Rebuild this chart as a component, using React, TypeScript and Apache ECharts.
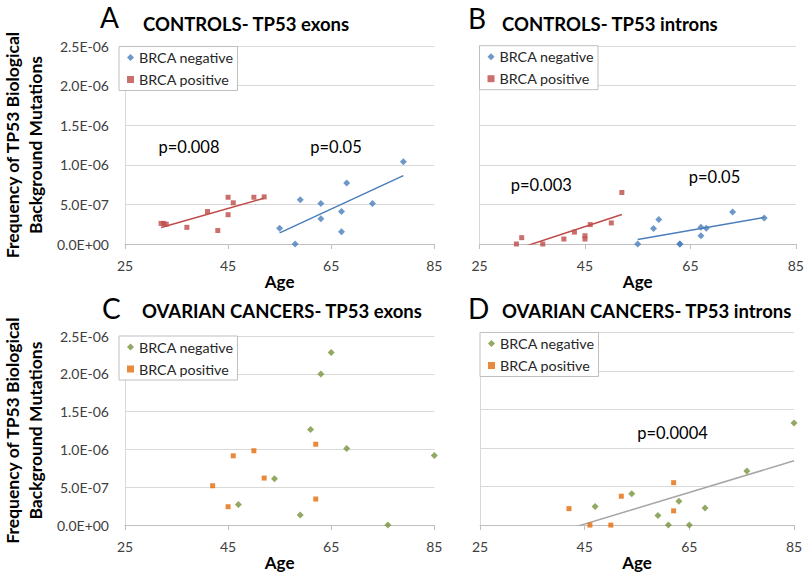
import React, { useEffect, useRef } from 'react';
import * as echarts from 'echarts';

// Panel A: controls, TP53 exons
const agesA_neg = [55, 58, 59, 63, 63, 67, 67, 68, 73, 79];
const valsA_neg = [0.2e-6, 0, 0.56e-6, 0.51e-6, 0.32e-6, 0.41e-6, 0.155e-6, 0.77e-6, 0.51e-6, 1.04e-6];
const agesA_pos = [32, 32.5, 33, 37, 41, 43, 45, 45, 46, 50, 52];
const valsA_pos = [0.26e-6, 0.26e-6, 0.25e-6, 0.21e-6, 0.41e-6, 0.17e-6, 0.59e-6, 0.37e-6, 0.52e-6, 0.59e-6, 0.595e-6];

// Panel B: controls, TP53 introns
const agesB_neg = [55, 58, 59, 63, 63, 67, 67, 68, 73, 79];
const valsB_neg = [0, 0.196e-6, 0.31e-6, 0, 0, 0.21e-6, 0.104e-6, 0.2e-6, 0.404e-6, 0.329e-6];
const agesB_pos = [32, 33, 37, 41, 43, 45, 45, 46, 50, 52];
const valsB_pos = [0, 0.08e-6, 0, 0.063e-6, 0.15e-6, 0.104e-6, 0.063e-6, 0.245e-6, 0.266e-6, 0.65e-6];

// Panel C: ovarian cancers, TP53 exons
const agesC_neg = [47, 54, 59, 61, 63, 65, 68, 76, 85];
const valsC_neg = [0.273e-6, 0.613e-6, 0.133e-6, 1.264e-6, 1.997e-6, 2.282e-6, 1.014e-6, 0, 0.92e-6];
const agesC_pos = [42, 45, 46, 50, 52, 62, 62];
const valsC_pos = [0.52e-6, 0.243e-6, 0.916e-6, 0.983e-6, 0.622e-6, 1.069e-6, 0.345e-6];

// Panel D: ovarian cancers, TP53 introns
const agesD_neg = [47, 54, 59, 61, 63, 65, 68, 76, 85];
const valsD_neg = [0.24e-6, 0.408e-6, 0.126e-6, 0, 0.308e-6, 0, 0.223e-6, 0.702e-6, 1.324e-6];
const agesD_pos = [42, 46, 50, 52, 62, 62];
const valsD_pos = [0.214e-6, 0, 0, 0.375e-6, 0.551e-6, 0.185e-6];

const panelLetters = ['A', 'B', 'C', 'D'];
const panelTitles = [
  'CONTROLS- TP53 exons',
  'CONTROLS- TP53 introns',
  'OVARIAN CANCERS- TP53 exons',
  'OVARIAN CANCERS- TP53 introns',
];
const pLabels = ['p=0.008', 'p=0.05', 'p=0.003', 'p=0.05', 'p=0.0004'];
const legendNames = ['BRCA negative', 'BRCA positive'];
const xTicks = [25, 45, 65, 85];
const yMax = 2.5e-6;
const yStep = 0.5e-6;

const FONT = 'Lato, "Open Sans", sans-serif';

function zip(xs: number[], ys: number[]) {
  return xs.map((x, i) => [x, ys[i]]);
}

function trend(xs: number[], ys: number[]) {
  const n = xs.length;
  const mx = xs.reduce((a, b) => a + b, 0) / n;
  const my = ys.reduce((a, b) => a + b, 0) / n;
  let sxy = 0;
  let sxx = 0;
  for (let i = 0; i < n; i++) {
    sxy += (xs[i] - mx) * (ys[i] - my);
    sxx += (xs[i] - mx) * (xs[i] - mx);
  }
  const b = sxy / sxx;
  const a = my - b * mx;
  const x0 = Math.min(...xs);
  const x1 = Math.max(...xs);
  return [
    [x0, a + b * x0],
    [x1, a + b * x1],
  ];
}

function sci(v: number) {
  const s = v.toExponential(1);
  const [m, e] = s.split('e');
  const sign = e[0] === '-' ? '-' : '+';
  const digits = e.replace(/[+-]/, '').padStart(2, '0');
  return m + 'E' + sign + digits;
}

export default function App() {
  const ref = useRef<HTMLDivElement>(null);

  useEffect(() => {
    if (!ref.current) return;
    const chart = echarts.init(ref.current, undefined, { renderer: 'svg' });

    const grids = [
      { left: 118.7, top: 46, width: 315.6, height: 198 },
      { left: 479.5, top: 46, width: 318.5, height: 198 },
      { left: 118.7, top: 336, width: 315.6, height: 196 },
      { left: 480, top: 332.5, width: 314, height: 199.5 },
    ];

    const xAxes = grids.map((_, i) => ({
      type: 'value',
      gridIndex: i,
      min: xTicks[0],
      max: xTicks[xTicks.length - 1],
      interval: xTicks[1] - xTicks[0],
      name: 'Age',
      nameLocation: 'middle',
      nameGap: 23,
      nameTextStyle: { fontSize: 17, fontWeight: 'bold', color: '#000', fontFamily: FONT },
      axisLine: { show: true, lineStyle: { color: '#bfbfbf', width: 1 } },
      axisTick: { show: true, length: 5, lineStyle: { color: '#bfbfbf' } },
      axisLabel: { fontSize: 14, color: '#404040', margin: 14, fontFamily: FONT },
      splitLine: { show: false },
    }));

    const yAxes = grids.map((_, i) => ({
      type: 'value',
      gridIndex: i,
      min: 0,
      max: yMax,
      interval: yStep,
      name: i % 2 === 0 ? 'Frequency of TP53 Biological\nBackground Mutations' : '',
      nameLocation: 'middle',
      nameRotate: 90,
      nameGap: 78,
      nameTextStyle: {
        fontSize: 17.5,
        fontWeight: 'bold',
        color: '#000',
        fontFamily: FONT,
        lineHeight: 23,
        align: 'center',
      },
      axisLine: { show: true, lineStyle: { color: '#d9d9d9', width: 1 } },
      axisTick: { show: false },
      axisLabel: {
        show: i % 2 === 0,
        fontSize: 14,
        color: '#404040',
        margin: 16,
        fontFamily: FONT,
        formatter: (v: number) => sci(v),
      },
      splitLine: { show: true, lineStyle: { color: '#d9d9d9', width: 1 } },
    }));

    const colorsCtrl = { neg: '#4a7ebb', pos: '#be4b48' };
    const colorsOv = { neg: '#77933c', pos: '#e46c0a' };

    const panels = [
      { negX: agesA_neg, negY: valsA_neg, posX: agesA_pos, posY: valsA_pos, c: colorsCtrl },
      { negX: agesB_neg, negY: valsB_neg, posX: agesB_pos, posY: valsB_pos, c: colorsCtrl },
      { negX: agesC_neg, negY: valsC_neg, posX: agesC_pos, posY: valsC_pos, c: colorsOv },
      { negX: agesD_neg, negY: valsD_neg, posX: agesD_pos, posY: valsD_pos, c: colorsOv },
    ];

    const series: any[] = [];
    panels.forEach((p, i) => {
      const tag = '|' + panelLetters[i];
      series.push({
        type: 'scatter',
        name: legendNames[0] + tag,
        xAxisIndex: i,
        yAxisIndex: i,
        data: zip(p.negX, p.negY),
        symbol: 'diamond',
        symbolSize: 7,
        itemStyle: { color: p.c.neg },
        clip: false,
        z: 3,
      });
      series.push({
        type: 'scatter',
        name: legendNames[1] + tag,
        xAxisIndex: i,
        yAxisIndex: i,
        data: zip(p.posX, p.posY),
        symbol: 'rect',
        symbolSize: 5,
        itemStyle: { color: p.c.pos },
        clip: false,
        z: 3,
      });
    });

    const lineSeries = (name: string, idx: number, data: number[][], color: string) => ({
      type: 'line',
      name,
      xAxisIndex: idx,
      yAxisIndex: idx,
      data,
      showSymbol: false,
      symbol: 'none',
      lineStyle: { color, width: 1.5 },
      clip: true,
      silent: true,
      z: 2,
    });
    series.push(lineSeries('trendA_neg', 0, trend(agesA_neg, valsA_neg), colorsCtrl.neg));
    series.push(lineSeries('trendA_pos', 0, trend(agesA_pos, valsA_pos), colorsCtrl.pos));
    series.push(lineSeries('trendB_neg', 1, trend(agesB_neg, valsB_neg), colorsCtrl.neg));
    series.push(lineSeries('trendB_pos', 1, trend(agesB_pos, valsB_pos), colorsCtrl.pos));
    series.push(
      lineSeries(
        'trendD_all',
        3,
        trend(agesD_neg.concat(agesD_pos), valsD_neg.concat(valsD_pos)),
        '#a6a6a6'
      )
    );

    const legendTops = [46.5, 45.7, 336, 332.5];
    const legendLefts = [119, 479.5, 119, 480];
    const legends = panelLetters.map((L, i) => ({
      orient: 'vertical',
      left: legendLefts[i],
      top: legendTops[i],
      padding: [3, 4, 3, 8],
      itemGap: 6,
      itemWidth: 7,
      itemHeight: 7,
      selectedMode: false,
      backgroundColor: '#fff',
      borderColor: '#bfbfbf',
      borderWidth: 1,
      textStyle: { fontSize: 14.3, color: '#262626', fontFamily: FONT, lineHeight: 16 },
      formatter: (name: string) => name.split('|')[0],
      data: [
        { name: legendNames[0] + '|' + L, icon: 'diamond' },
        { name: legendNames[1] + '|' + L, icon: 'rect' },
      ],
    }));

    const letterPos = [
      [100, 17],
      [468, 18],
      [102, 308],
      [468, 308],
    ];
    const titlePos = [
      [143, 23.5],
      [502, 23.5],
      [142, 310.5],
      [502, 310.5],
    ];
    const pPos = [
      [189, 146.7],
      [336, 146.7],
      [541.3, 185],
      [714.5, 176.7],
      [672.5, 433.3],
    ];

    const graphic: any[] = [];
    panelLetters.forEach((L, i) => {
      graphic.push({
        type: 'text',
        x: letterPos[i][0],
        y: letterPos[i][1],
        style: {
          text: L,
          fontSize: 28,
          fontFamily: FONT,
          fill: '#000',
          align: 'left',
          verticalAlign: 'middle',
        },
      });
      graphic.push({
        type: 'text',
        x: titlePos[i][0],
        y: titlePos[i][1],
        style: {
          text: panelTitles[i],
          fontSize: 18.5,
          fontWeight: 'bold',
          fontFamily: FONT,
          fill: '#000',
          align: 'left',
          verticalAlign: 'middle',
        },
      });
    });
    pLabels.forEach((t, i) => {
      graphic.push({
        type: 'text',
        x: pPos[i][0],
        y: pPos[i][1],
        style: {
          text: t,
          fontSize: 16.5,
          fontFamily: FONT,
          fill: '#000',
          align: 'center',
          verticalAlign: 'middle',
        },
      });
    });

    chart.setOption({
      animation: false,
      backgroundColor: '#fff',
      textStyle: { fontFamily: FONT },
      grid: grids,
      xAxis: xAxes,
      yAxis: yAxes,
      legend: legends,
      series,
      graphic,
    });

    return () => chart.dispose();
  }, []);

  return (
    <div
      ref={ref}
      style={{ position: 'fixed', left: 0, top: 0, width: 807, height: 572, background: '#fff' }}
    />
  );
}
